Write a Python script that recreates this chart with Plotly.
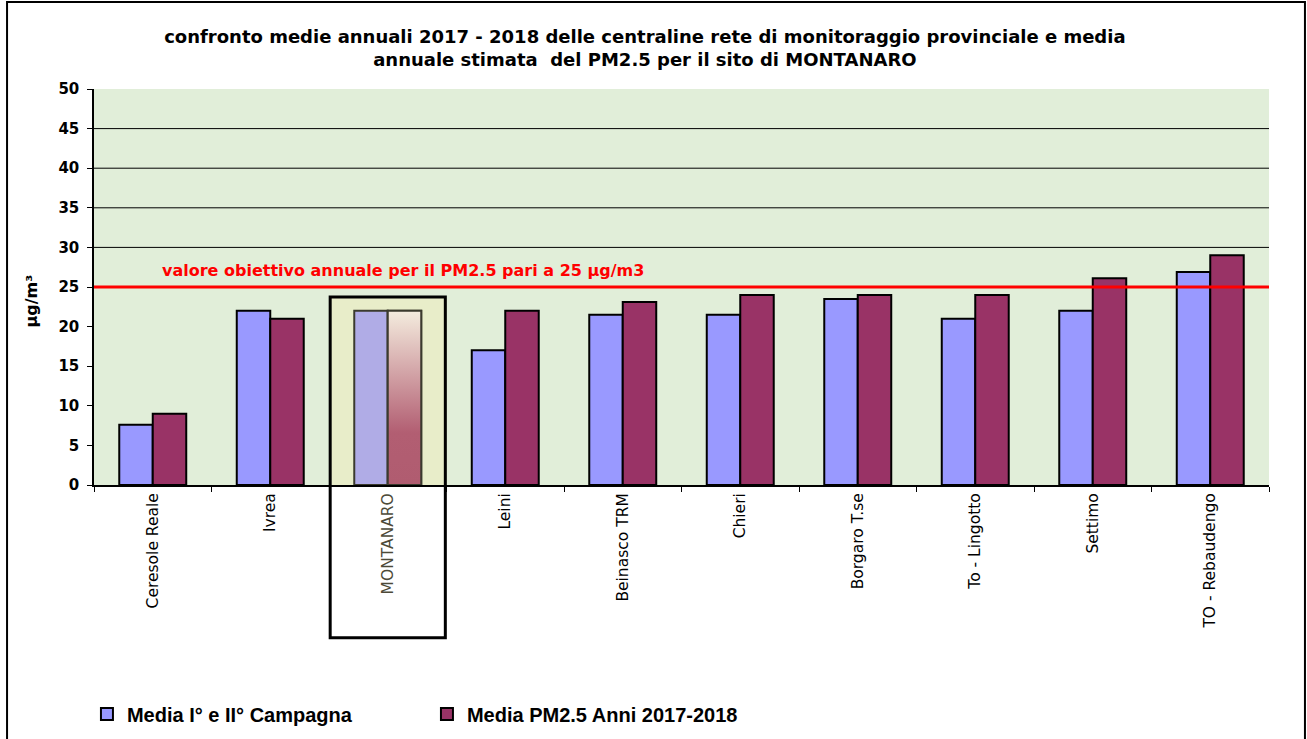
import plotly.graph_objects as go

# --- data ---
stations = [
    "Ceresole Reale", "Ivrea", "MONTANARO", "Leini", "Beinasco TRM",
    "Chieri", "Borgaro T.se", "To - Lingotto", "Settimo", "TO - Rebaudengo",
]
campagna = [7.6, 22.0, 22.0, 17.0, 21.5, 21.5, 23.5, 21.0, 22.0, 26.9]
pm25_2017_2018 = [9.0, 21.0, 22.0, 22.0, 23.1, 24.0, 24.0, 24.0, 26.1, 29.0]
target_value = 25
grid_levels = [30, 35, 40, 45]
highlight = "MONTANARO"
highlight_top = 23.75

BLUE = "#9999FF"
PURPLE = "#993366"
BARGAP = 0.43
FONT = "DejaVu Sans"

hi = stations.index(highlight)

ticktext = [
    f"<span style='color:#4d4a38'>{s}</span>" if s == highlight else s for s in stations
]

blue_colors = ["#B0ACE6" if s == highlight else BLUE for s in stations]
purple_colors = ["rgba(0,0,0,0)" if s == highlight else PURPLE for s in stations]
line_colors = ["#3b3a2e" if s == highlight else "#000000" for s in stations]

fig = go.Figure()

fig.add_trace(go.Bar(
    x=stations, y=campagna, name="Media I° e II° Campagna",
    marker=dict(color=blue_colors, line=dict(color=line_colors, width=2)),
))
fig.add_trace(go.Bar(
    x=stations, y=pm25_2017_2018, name="Media PM2.5 Anni 2017-2018",
    marker=dict(color=purple_colors, line=dict(color=line_colors, width=2)),
))

# gradient fill for the highlighted station's PM2.5 bar (on an overlay numeric axis)
bw = (1 - BARGAP) / 2
gx0, gx1 = hi, hi + bw
gv = pm25_2017_2018[hi]
fig.add_trace(go.Scatter(
    x=[gx0, gx1, gx1, gx0, gx0], y=[0, 0, gv, gv, 0],
    xaxis="x2", mode="lines", fill="toself",
    line=dict(color="#3b3a2e", width=2),
    fillgradient=dict(type="vertical",
                      colorscale=[[0, "#B05C70"], [0.3, "#B25E72"], [1, "#F4ECDE"]]),
    showlegend=False, hoverinfo="skip",
))

# highlight box: filled part inside plot, outline reaching below axis
fig.add_shape(type="rect", xref="x", yref="y", x0=hi - 0.5, x1=hi + 0.5,
              y0=0, y1=highlight_top, fillcolor="#E8EDC9", line_width=0, layer="below")
fig.add_shape(type="rect", xref="x", yref="paper", x0=hi - 0.49, x1=hi + 0.49,
              y0=-0.386, y1=highlight_top / 50, line=dict(color="black", width=3))

for g in grid_levels:
    fig.add_hline(y=g, line_color="black", line_width=1, layer="below")

fig.add_hline(y=target_value, line_color="#FF0000", line_width=3)
fig.add_annotation(
    x=0.056, xref="paper", y=target_value, yref="y", yshift=5,
    text="valore obiettivo annuale per il PM2.5 pari a 25 μg/m3",
    showarrow=False, xanchor="left", yanchor="bottom",
    font=dict(family=FONT, size=16, color="#FF0000", weight="bold"),
)

# y-axis title
fig.add_annotation(
    x=-0.053, xref="paper", y=0.465, yref="paper", text="μg/m³", textangle=-90,
    xanchor="center", yanchor="middle",
    showarrow=False, font=dict(family=FONT, size=16, color="black", weight="bold"),
)

# outer frame
fig.add_shape(type="rect", xref="paper", yref="paper", x0=-0.074, x1=1.0306,
              y0=-0.72, y1=1.2197, line=dict(color="black", width=2))

fig.update_layout(
    width=1307, height=739,
    margin=dict(l=94, r=38, t=89, b=254, autoexpand=False),
    paper_bgcolor="white", plot_bgcolor="#E1EED9",
    barmode="group", bargap=BARGAP, bargroupgap=0,
    title=dict(
        text="confronto medie annuali 2017 - 2018 delle centraline rete di monitoraggio provinciale e media<br>"
             "annuale stimata  del PM2.5 per il sito di MONTANARO",
        x=0.4934, xanchor="center", y=0.942, yanchor="top",
        font=dict(family=FONT, size=18, color="black", weight="bold"),
    ),
    font=dict(family=FONT, color="black"),
    showlegend=True,
    legend=dict(orientation="h", x=-0.006, xanchor="left", y=-0.578, yanchor="middle",
                entrywidth=295,
                font=dict(family="Liberation Sans", size=20, color="black", weight="bold")),
    xaxis=dict(
        type="category", tickmode="array", tickvals=stations, ticktext=ticktext,
        tickangle=-90, tickson="boundaries", ticks="outside", ticklen=5,
        tickcolor="black", showline=True, linecolor="black", linewidth=2,
        showgrid=False, range=[-0.5, len(stations) - 0.5],
        tickfont=dict(family=FONT, size=15.5, color="black"),
    ),
    xaxis2=dict(overlaying="x", range=[-0.5, len(stations) - 0.5], visible=False),
    yaxis=dict(
        range=[0, 50], dtick=5, ticks="outside", ticklen=5, tickcolor="black",
        showline=True, linecolor="black", linewidth=1.5, showgrid=False,
        zeroline=False, ticklabelstandoff=5,
        tickfont=dict(family=FONT, size=15, color="black", weight="bold"),
    ),
)

fig.write_html("out.html", config={"displayModeBar": False},
               post_script=["document.body.style.margin='0px';"])
